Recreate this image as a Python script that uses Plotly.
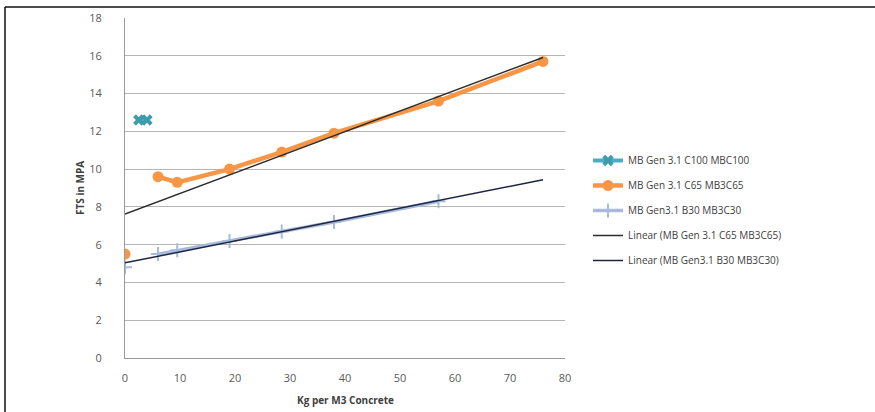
import numpy as np
import plotly.graph_objects as go

# Data
c100_x = [2.5, 4.0]
c100_y = [12.6, 12.6]

c65_x = [0, 6, 9.5, 19, 28.5, 38, 57, 76]
c65_y = [5.5, 9.6, 9.3, 10.0, 10.9, 11.9, 13.6, 15.7]

b30_x = [0, 6, 9.5, 19, 28.5, 38, 57]
b30_y = [4.8, 5.5, 5.7, 6.2, 6.7, 7.2, 8.3]

trend_x_end = 76

x_ticks = [0, 10, 20, 30, 40, 50, 60, 70, 80]
y_ticks = [0, 2, 4, 6, 8, 10, 12, 14, 16, 18]

x_title = "Kg per M3 Concrete"
y_title = "FTS in MPA"

names = ["MB Gen 3.1 C100 MBC100", "MB Gen 3.1 C65 MB3C65", "MB Gen3.1 B30 MB3C30",
         "Linear (MB Gen 3.1 C65 MB3C65)", "Linear (MB Gen3.1 B30 MB3C30)"]


def with_gap(xs, ys):
    # first point is not joined to the rest in the reference
    return [xs[0], None] + xs[1:], [ys[0], None] + ys[1:]


fig = go.Figure()

fig.add_trace(go.Scatter(x=c100_x, y=c100_y, mode="lines+markers", name=names[0],
                         line=dict(color="#4BACC6", width=4),
                         marker=dict(symbol="x", size=10, color="#3E9BAE"),
                         legendgroup="a"))

gx, gy = with_gap(c65_x, c65_y)
fig.add_trace(go.Scatter(x=gx, y=gy, mode="lines+markers", name=names[1],
                         line=dict(color="#F79646", width=4.5),
                         marker=dict(symbol="circle", size=11, color="#F79646"),
                         connectgaps=False, legendgroup="b"))

gx, gy = with_gap(b30_x, b30_y)
fig.add_trace(go.Scatter(x=gx, y=gy, mode="lines+markers", name=names[2],
                         line=dict(color="#A7B9DD", width=3.5),
                         marker=dict(symbol="cross-thin", size=10, color="#A7B9DD",
                                     line=dict(color="#A7B9DD", width=2)),
                         connectgaps=False, legendgroup="c"))

tx = np.array([0, trend_x_end])
s, i = np.polyfit(c65_x, c65_y, 1)
fig.add_trace(go.Scatter(x=tx, y=s * tx + i, mode="lines", name=names[3],
                         line=dict(color="#2b2b2b", width=1.5), legendgroup="d"))
s, i = np.polyfit(b30_x, b30_y, 1)
fig.add_trace(go.Scatter(x=tx, y=s * tx + i, mode="lines", name=names[4],
                         line=dict(color="#1c2640", width=1.5), legendgroup="e"))

L, R, T, B = 125, 310, 18, 54
W, H = 875, 412
pw, ph = W - L - R, H - T - B

fig.update_layout(
    width=W, height=H,
    margin=dict(l=L, r=R, t=T, b=B, autoexpand=False),
    paper_bgcolor="white", plot_bgcolor="white",
    font=dict(family="Open Sans, Lato, sans-serif", size=11, color="#595959"),
    showlegend=True,
    legend=dict(x=(588 - L) / pw, y=(H - B - 146) / ph, xanchor="left", yanchor="top",
                font=dict(size=10, color="#404040"), tracegroupgap=6,
                bgcolor="rgba(0,0,0,0)"),
    xaxis=dict(range=[0, 80], tickvals=x_ticks, showgrid=False, zeroline=False,
               showline=True, linecolor="#9a9a9a", linewidth=1, ticks="",
               ticklabelstandoff=10, automargin=False),
    yaxis=dict(range=[0, 18], tickvals=y_ticks, showgrid=True, gridcolor="#b5b5b5",
               gridwidth=1, zeroline=False, showline=True, linecolor="#9a9a9a",
               linewidth=1, ticks="", ticklabelstandoff=20, automargin=False),
)

# axis titles
fig.add_annotation(text="<b>" + x_title + "</b>", xref="paper", yref="paper",
                   x=0.5, y=(H - B - 400) / ph, showarrow=False,
                   xanchor="center", yanchor="middle",
                   font=dict(size=10, color="#404040"))
fig.add_annotation(text="<b>" + y_title + "</b>", xref="paper", yref="paper",
                   x=(80 - L) / pw, y=0.5, showarrow=False, textangle=-90,
                   xanchor="center", yanchor="middle",
                   font=dict(size=10, color="#404040"))

# outer chart frame (top and left edges only are visible)
fig.add_shape(type="line", xref="paper", yref="paper",
              x0=(5 - L) / pw, x1=(875 - L) / pw,
              y0=(H - B - 7) / ph, y1=(H - B - 7) / ph,
              line=dict(color="#111111", width=1.5))
fig.add_shape(type="line", xref="paper", yref="paper",
              x0=(5 - L) / pw, x1=(5 - L) / pw,
              y0=(H - B - 7) / ph, y1=(H - B - 413) / ph,
              line=dict(color="#111111", width=1.5))

fig.write_html("out.html", post_script="document.body.style.margin='0';",
               config={"displayModeBar": False})
